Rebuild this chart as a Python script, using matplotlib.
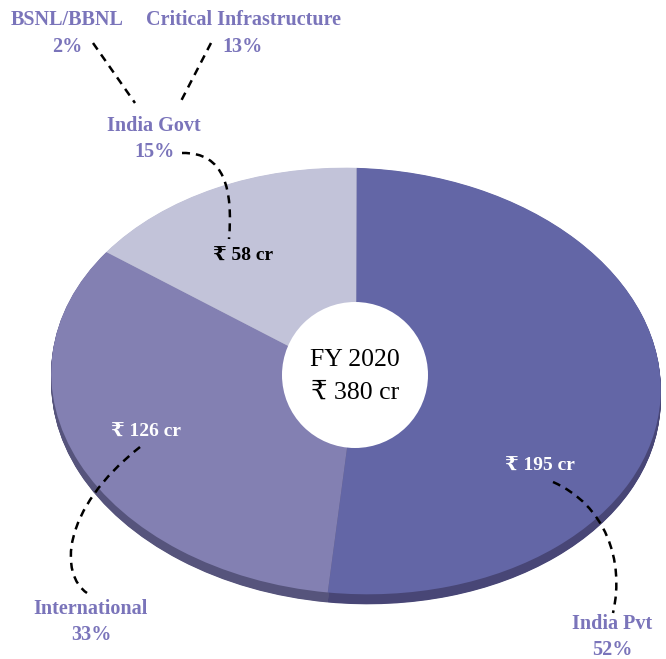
import matplotlib
matplotlib.use("Agg")
import matplotlib.pyplot as plt
from matplotlib.patches import Circle, PathPatch
from matplotlib.path import Path
from matplotlib.transforms import Affine2D
import numpy as np

# Revenue split, FY 2020 (₹ crore)
segments = ["India Pvt", "International", "India Govt"]
amounts = [195, 126, 58]
shares = [52, 33, 15]
total_amount = 380
fiscal_year = "FY 2020"

# Breakdown of the India Govt share
govt_parts = ["BSNL/BBNL", "Critical Infrastructure"]
govt_shares = [2, 13]

top_colors = ["#6366a6", "#8380b2", "#c2c3d9"]
side_colors = ["#484676", "#56547c", "#9c9cb8"]
label_color = "#7a74ba"

plt.rcParams["font.family"] = ["Liberation Serif", "DejaVu Serif"]

W, H = 666, 659
fig = plt.figure(figsize=(W / 100, H / 100), dpi=100)
ax = fig.add_axes([0, 0, 1, 1])

# tilted-disc look: squash the unit pie into an ellipse, slight clockwise tilt
cx, cy, rx, ry, tilt = 356, 381, 305, 213, -3
disc = Affine2D().scale(rx, ry).rotate_deg(tilt).scale(1, -1).translate(cx, cy)
depth = 10

# side walls: darker copies of the pie stepped downward
side_wedges, _ = ax.pie(amounts, colors=side_colors, startangle=92,
                        counterclock=False, wedgeprops=dict(linewidth=0))
for w in side_wedges:
    w.set_visible(False)
    for off in np.arange(0.5, depth + 0.01, 0.5):
        p = PathPatch(w.get_path(), facecolor=w.get_facecolor(), edgecolor="none",
                      transform=w.get_patch_transform() + disc +
                      Affine2D().translate(0, off) + ax.transData, zorder=1)
        ax.add_patch(p)

# top face
top_wedges, _ = ax.pie(amounts, colors=top_colors, startangle=92,
                       counterclock=False, wedgeprops=dict(linewidth=0))
for w in top_wedges:
    w.set_transform(w.get_patch_transform() + disc + ax.transData)
    w.set_zorder(2)

ax.set_xlim(0, W)
ax.set_ylim(H, 0)
ax.set_aspect("equal")
ax.axis("off")

# centre hole
ax.add_patch(Circle((355, 375), 73, facecolor="white", edgecolor="none", zorder=3))
ax.text(355, 360, fiscal_year, ha="center", va="center", fontsize=18.5, color="black", zorder=4)
ax.text(355, 393, f"₹ {total_amount} cr", ha="center", va="center", fontsize=18.5,
        color="black", zorder=4)

# amounts on the slices
amount_pos = [(540, 466, "white"), (146, 432, "white"), (243, 256, "black")]
for amt, (x, y, c) in zip(amounts, amount_pos):
    ax.text(x, y, f"₹ {amt} cr", ha="center", va="center", fontsize=14, color=c,
            fontweight="bold", zorder=4)

# segment labels
label_size = 14.5
seg_pos = [(612, 624), (91, 609), (154, 126)]
for name, pct, (x, y) in zip(segments, shares, seg_pos):
    ax.text(x, y, name, ha="center", va="center", fontsize=label_size, color=label_color,
            fontweight="bold", zorder=4)
    ax.text(x, y + 26, f"{pct}%", ha="center", va="center", fontsize=label_size,
            color=label_color, fontweight="bold", zorder=4)

part_pos = [(67, 20), (243, 20)]
for name, pct, (x, y) in zip(govt_parts, govt_shares, part_pos):
    ax.text(x, y, name, ha="center", va="center", fontsize=label_size, color=label_color,
            fontweight="bold", zorder=4)
    ax.text(x, y + 27, f"{pct}%", ha="center", va="center", fontsize=label_size,
            color=label_color, fontweight="bold", zorder=4)

# dashed leader lines
leader = dict(color="black", lw=1.8, linestyle=(0, (3.2, 2.4)), zorder=5)
ax.plot([93, 135], [43, 103], **leader)
ax.plot([211, 180], [43, 103], **leader)

def curve(pts):
    codes = [Path.MOVETO, Path.CURVE4, Path.CURVE4, Path.CURVE4]
    ax.add_patch(PathPatch(Path(pts, codes), facecolor="none", edgecolor="black",
                           lw=1.8, linestyle=(0, (3.2, 2.4)), zorder=5))

curve([(182, 153), (225, 152), (233, 190), (229, 239)])
curve([(140, 447), (60, 510), (60, 575), (87, 593)])
curve([(553, 482), (605, 505), (625, 560), (613, 613)])

fig.savefig("out.png", dpi=100)
